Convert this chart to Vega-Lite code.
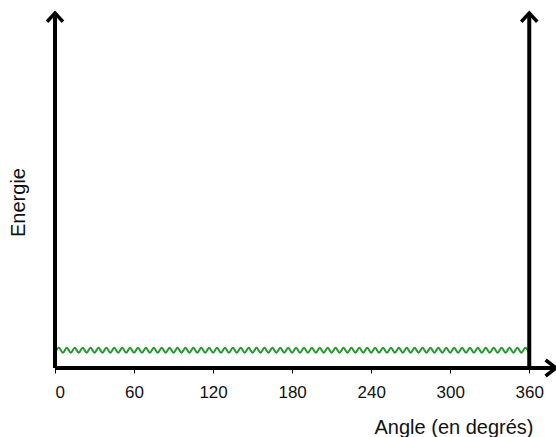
{
  "$schema": "https://vega.github.io/schema/vega-lite/v6.json",
  "width": 501,
  "height": 355,
  "autosize": {"type": "none"},
  "padding": {"left": 55, "top": 13, "right": 0, "bottom": 69},
  "background": "white",
  "config": {
    "view": {"stroke": null},
    "font": "Liberation Sans"
  },
  "datasets": {
    "wave": [
      {"a":0,"e":0.43},{"a":3,"e":0.57},{"a":6,"e":0.43},{"a":9,"e":0.57},{"a":12,"e":0.43},{"a":15,"e":0.57},{"a":18,"e":0.43},{"a":21,"e":0.57},{"a":24,"e":0.43},{"a":27,"e":0.57},
      {"a":30,"e":0.43},{"a":33,"e":0.57},{"a":36,"e":0.43},{"a":39,"e":0.57},{"a":42,"e":0.43},{"a":45,"e":0.57},{"a":48,"e":0.43},{"a":51,"e":0.57},{"a":54,"e":0.43},{"a":57,"e":0.57},
      {"a":60,"e":0.43},{"a":63,"e":0.57},{"a":66,"e":0.43},{"a":69,"e":0.57},{"a":72,"e":0.43},{"a":75,"e":0.57},{"a":78,"e":0.43},{"a":81,"e":0.57},{"a":84,"e":0.43},{"a":87,"e":0.57},
      {"a":90,"e":0.43},{"a":93,"e":0.57},{"a":96,"e":0.43},{"a":99,"e":0.57},{"a":102,"e":0.43},{"a":105,"e":0.57},{"a":108,"e":0.43},{"a":111,"e":0.57},{"a":114,"e":0.43},{"a":117,"e":0.57},
      {"a":120,"e":0.43},{"a":123,"e":0.57},{"a":126,"e":0.43},{"a":129,"e":0.57},{"a":132,"e":0.43},{"a":135,"e":0.57},{"a":138,"e":0.43},{"a":141,"e":0.57},{"a":144,"e":0.43},{"a":147,"e":0.57},
      {"a":150,"e":0.43},{"a":153,"e":0.57},{"a":156,"e":0.43},{"a":159,"e":0.57},{"a":162,"e":0.43},{"a":165,"e":0.57},{"a":168,"e":0.43},{"a":171,"e":0.57},{"a":174,"e":0.43},{"a":177,"e":0.57},
      {"a":180,"e":0.43},{"a":183,"e":0.57},{"a":186,"e":0.43},{"a":189,"e":0.57},{"a":192,"e":0.43},{"a":195,"e":0.57},{"a":198,"e":0.43},{"a":201,"e":0.57},{"a":204,"e":0.43},{"a":207,"e":0.57},
      {"a":210,"e":0.43},{"a":213,"e":0.57},{"a":216,"e":0.43},{"a":219,"e":0.57},{"a":222,"e":0.43},{"a":225,"e":0.57},{"a":228,"e":0.43},{"a":231,"e":0.57},{"a":234,"e":0.43},{"a":237,"e":0.57},
      {"a":240,"e":0.43},{"a":243,"e":0.57},{"a":246,"e":0.43},{"a":249,"e":0.57},{"a":252,"e":0.43},{"a":255,"e":0.57},{"a":258,"e":0.43},{"a":261,"e":0.57},{"a":264,"e":0.43},{"a":267,"e":0.57},
      {"a":270,"e":0.43},{"a":273,"e":0.57},{"a":276,"e":0.43},{"a":279,"e":0.57},{"a":282,"e":0.43},{"a":285,"e":0.57},{"a":288,"e":0.43},{"a":291,"e":0.57},{"a":294,"e":0.43},{"a":297,"e":0.57},
      {"a":300,"e":0.43},{"a":303,"e":0.57},{"a":306,"e":0.43},{"a":309,"e":0.57},{"a":312,"e":0.43},{"a":315,"e":0.57},{"a":318,"e":0.43},{"a":321,"e":0.57},{"a":324,"e":0.43},{"a":327,"e":0.57},
      {"a":330,"e":0.43},{"a":333,"e":0.57},{"a":336,"e":0.43},{"a":339,"e":0.57},{"a":342,"e":0.43},{"a":345,"e":0.57},{"a":348,"e":0.43},{"a":351,"e":0.57},{"a":354,"e":0.43},{"a":357,"e":0.57},
      {"a":360,"e":0.43}
    ],
    "lines": [
      {"x0":0,"x1":0,"y0":0,"y1":10},
      {"x0":360,"x1":360,"y0":0,"y1":10},
      {"x0":0,"x1":380.3,"y0":0,"y1":0}
    ],
    "heads": [
      {"a":0,"e":10,"dir":"up"},
      {"a":360,"e":10,"dir":"up"},
      {"a":380.3,"e":0,"dir":"right"}
    ]
  },
  "layer": [
    {
      "data": {"name": "wave"},
      "mark": {"type": "line", "interpolate": "monotone", "color": "#1f9a2a", "strokeWidth": 2},
      "encoding": {
        "x": {
          "field": "a", "type": "quantitative",
          "scale": {"domain": [0, 380.3], "nice": false, "zero": false},
          "axis": {
            "values": [0, 60, 120, 180, 240, 300, 360],
            "grid": false, "domain": false,
            "ticks": true, "tickSize": 5, "tickWidth": 1, "tickColor": "black",
            "labelFontSize": 17, "labelColor": "#111", "labelPadding": 11,
            "labelFont": "Liberation Sans",
            "title": "Angle (en degrés)",
            "titleFont": "Liberation Sans", "titleFontSize": 20, "titleFontWeight": "normal",
            "titleColor": "#111", "titleAlign": "right", "titleAnchor": "end",
            "titleX": 478, "titleY": 49, "titleBaseline": "top"
          }
        },
        "y": {
          "field": "e", "type": "quantitative",
          "scale": {"domain": [0, 10], "nice": false, "zero": false},
          "axis": {
            "grid": false, "domain": false, "ticks": false, "labels": false,
            "title": "Energie",
            "titleFont": "Liberation Sans", "titleFontSize": 20, "titleFontWeight": "normal",
            "titleColor": "#111", "titleAngle": -90,
            "titleX": -27, "titleY": 189, "titleAlign": "center", "titleBaseline": "bottom"
          }
        }
      }
    },
    {
      "data": {"name": "lines"},
      "mark": {"type": "rule", "color": "black", "strokeWidth": 4},
      "encoding": {
        "x": {"field": "x0", "type": "quantitative"},
        "x2": {"field": "x1"},
        "y": {"field": "y0", "type": "quantitative"},
        "y2": {"field": "y1"}
      }
    },
    {
      "data": {"name": "heads"},
      "mark": {"type": "point", "filled": false, "stroke": "black", "strokeWidth": 3.5, "opacity": 1, "size": 256},
      "encoding": {
        "x": {"field": "a", "type": "quantitative"},
        "y": {"field": "e", "type": "quantitative"},
        "shape": {
          "field": "dir", "type": "nominal",
          "scale": {"domain": ["up", "right"], "range": ["M-1,1.1L0,0L1,1.1", "M-1.3,-1L0,0L-1.3,1"]},
          "legend": null
        }
      }
    }
  ]
}
